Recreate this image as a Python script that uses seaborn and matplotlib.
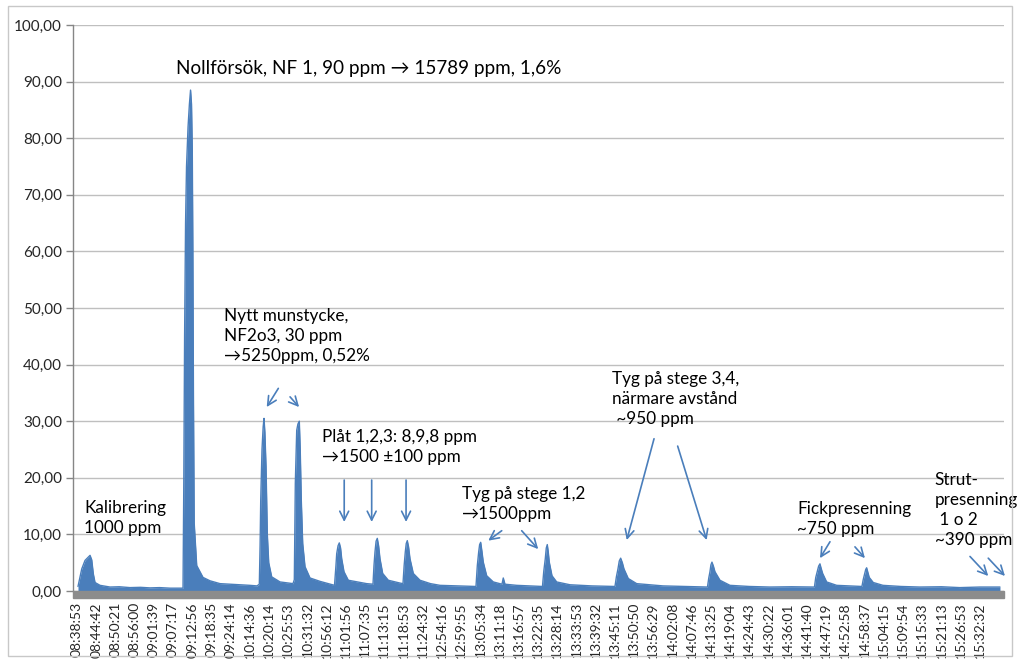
import numpy as np
import pandas as pd
import seaborn as sns
import matplotlib.pyplot as plt
from matplotlib.patches import Rectangle

# x-axis labels (one label per ~340 samples, category axis)
tick_labels = [
    '08:38:53', '08:44:42', '08:50:21', '08:56:00', '09:01:39', '09:07:17',
    '09:12:56', '09:18:35', '09:24:14', '10:14:36', '10:20:14', '10:25:53',
    '10:31:32', '10:56:12', '11:01:56', '11:07:35', '11:13:15', '11:18:53',
    '11:24:32', '12:54:16', '12:59:55', '13:05:34', '13:11:18', '13:16:57',
    '13:22:35', '13:28:14', '13:33:53', '13:39:32', '13:45:11', '13:50:50',
    '13:56:29', '14:02:08', '14:07:46', '14:13:25', '14:19:04', '14:24:43',
    '14:30:22', '14:36:01', '14:41:40', '14:47:19', '14:52:58', '14:58:37',
    '15:04:15', '15:09:54', '15:15:33', '15:21:13', '15:26:53', '15:32:32',
]

pos = [
    0.05, 0.245, 0.416, 0.677, 0.765, 0.849, 0.937, 1.197, 1.718, 2.2, 2.759, 3.3, 3.80, 4.3, 4.84,
    5.518, 5.56, 5.60, 5.65, 5.70, 5.78, 5.85, 5.91, 5.96, 6.00, 6.03, 6.06, 6.10, 6.231,
    6.559, 6.923, 7.444, 8.0, 8.485, 9.0, 9.370,
    9.490, 9.53, 9.563, 9.630, 9.69, 9.735, 9.78, 9.839, 9.907, 9.980, 10.135, 10.568, 11.244,
    11.312, 11.364, 11.437, 11.50, 11.572, 11.62, 11.676, 11.749, 11.869, 12.129, 12.650,
    13.405, 13.48, 13.519, 13.59, 13.654, 13.72, 13.779, 13.899, 14.123, 14.6, 15.080,
    15.408, 15.46, 15.512, 15.57, 15.632, 15.70, 15.773, 15.913, 16.205, 16.814,
    16.970, 17.03, 17.090, 17.14, 17.194, 17.26, 17.335, 17.507, 17.855, 18.4, 18.896, 19.8,
    20.770, 20.84, 20.911, 20.96, 21.015, 21.08, 21.150, 21.327, 21.671, 22.124, 22.191, 22.280, 22.889,
    23.6, 24.232, 24.30, 24.378, 24.43, 24.482, 24.53, 24.586, 24.727, 24.971, 25.664, 26.8,
    28.006, 28.08, 28.162, 28.23, 28.303, 28.39, 28.475, 28.699, 29.136, 30.505, 31.7,
    32.822, 32.89, 32.952, 33.00, 33.056, 33.13, 33.212, 33.472, 33.993, 35.0, 36.075, 37.2,
    38.391, 38.46, 38.537, 38.61, 38.678, 38.74, 38.818, 39.026, 39.547, 40.2,
    40.864, 40.93, 41.005, 41.06, 41.109, 41.17, 41.244, 41.453, 41.957, 42.9, 43.883, 45.0, 45.96,
    47.0, 48.05,
]
signal = [
    0.8, 3.9, 5.4, 6.3, 5.5, 3.0, 1.5, 1.0, 0.7, 0.75, 0.6, 0.65, 0.55, 0.6, 0.5,
    0.5, 20.0, 45.0, 65.0, 75.0, 82.0, 86.0, 88.5, 86.0, 78.0, 60.0, 35.0, 12.0, 4.5,
    2.4, 1.8, 1.3, 1.2, 1.1, 1.0, 0.9,
    1.2, 8.0, 16.0, 25.0, 29.0, 30.5, 28.0, 22.0, 10.0, 5.0, 2.5, 1.6, 1.3,
    2.0, 19.0, 28.4, 29.5, 30.0, 25.0, 16.0, 8.4, 4.3, 2.3, 1.7,
    1.0, 4.5, 6.6, 8.0, 8.5, 7.6, 5.7, 3.4, 1.9, 1.6, 1.3,
    1.2, 4.5, 6.9, 8.8, 9.3, 8.0, 5.7, 3.1, 1.9, 1.4,
    1.3, 4.5, 6.9, 8.4, 8.9, 7.8, 5.7, 3.1, 1.9, 1.3, 1.0, 0.9,
    0.8, 4.5, 6.9, 8.2, 8.6, 7.0, 5.1, 2.7, 1.6, 1.2, 2.3, 1.2, 1.0,
    0.9, 0.8, 3.5, 5.7, 7.6, 8.2, 7.0, 5.1, 2.7, 1.6, 1.1, 0.9,
    0.8, 2.5, 3.9, 5.3, 5.8, 5.0, 3.9, 2.2, 1.3, 0.9, 0.8,
    0.7, 2.3, 3.4, 4.6, 5.1, 4.4, 3.4, 1.9, 1.0, 0.8, 0.7, 0.75,
    0.7, 2.4, 3.4, 4.4, 4.8, 4.0, 3.1, 1.6, 1.0, 0.9,
    0.8, 2.0, 3.0, 3.8, 4.1, 3.3, 2.4, 1.5, 1.0, 0.8, 0.7, 0.75, 0.6,
    0.7, 0.7,
]

df = pd.DataFrame({'pos': pos, 'signal': signal})

blue = '#4A7EBB'
sns.set_style('white')
plt.rcParams['font.family'] = ['Lato', 'DejaVu Sans']

fig = plt.figure(figsize=(10.18, 6.62), dpi=100)
ax = fig.add_axes([73 / 1018, 1 - 591 / 662, (1004 - 73) / 1018, (591 - 25) / 662])

# outer chart frame
fig.patches.append(Rectangle((8 / 1018, 6 / 662), 1004 / 1018, 650 / 662,
                             transform=fig.transFigure, fill=False,
                             edgecolor='#C8C8C8', lw=1))

ax.fill_between(df['pos'], df['signal'], color=blue, lw=0, zorder=3)
sns.lineplot(data=df, x='pos', y='signal', ax=ax, color=blue, lw=1.0, zorder=3)

ax.set_xlim(-0.21, 48.26)
ax.set_ylim(0, 100)
ax.set_yticks(np.arange(0, 101, 10))
ax.set_yticklabels([f'{v:.2f}'.replace('.', ',') for v in np.arange(0, 101, 10)],
                   fontsize=11)
ax.set_xticks(range(len(tick_labels)))
ax.set_xticklabels(tick_labels, rotation=90, fontsize=10)
ax.tick_params(axis='x', length=0, pad=8)
ax.tick_params(axis='y', length=5, width=1, color='#868686', pad=3, direction='out', left=True)
ax.set_xlabel('')
ax.set_ylabel('')
ax.grid(axis='y', color='#BFBFBF', lw=1)
ax.set_axisbelow(True)
for s in ['top', 'right', 'bottom']:
    ax.spines[s].set_visible(False)
ax.spines['left'].set_color('#868686')
ax.spines['left'].set_linewidth(1)

# thick grey category axis band
ax.add_patch(Rectangle((0, -7 / 566), 1, 7 / 566, transform=ax.transAxes,
                       color='#8C8C8C', clip_on=False, zorder=4))

# annotations
fs = 12.3
texts = [
    (5.15, 92.4, 'Nollförsök, NF 1, 90 ppm \u2192 15789 ppm, 1,6%', 13.6),
    (0.36, 12.9, 'Kalibrering\n1000 ppm', fs),
    (7.65, 45.1, 'Nytt munstycke,\nNF2o3, 30 ppm\n\u21925250ppm, 0,52%', fs),
    (12.75, 25.4, 'Plåt 1,2,3: 8,9,8 ppm\n\u21921500 \u00b1100 ppm', fs),
    (20.04, 15.4, 'Tyg på stege 1,2\n\u21921500ppm', fs),
    (27.85, 33.9, 'Tyg på stege 3,4,\nnärmare avstånd\n ~950 ppm', fs),
    (37.48, 12.7, 'Fickpresenning\n~750 ppm', fs),
    (44.66, 14.3, 'Strut-\npresenning\n 1 o 2\n~390 ppm', fs),
]
for x, y, t, size in texts:
    ax.text(x, y, t, fontsize=size, ha='left', va='center', linespacing=1.3,
            color='black', clip_on=False, zorder=5)

arrows = [
    ((10.48, 35.8), (9.875, 32.5)),
    ((11.09, 34.3), (11.56, 32.5)),
    ((13.91, 19.6), (13.91, 12.2)),
    ((15.34, 19.6), (15.34, 12.2)),
    ((17.13, 19.6), (17.13, 12.2)),
    ((22.11, 10.65), (21.41, 8.9)),
    ((23.15, 10.65), (24.01, 7.4)),
    ((30.04, 26.9), (28.62, 9.0)),
    ((31.27, 25.6), (32.78, 9.0)),
    ((39.20, 8.7), (38.68, 5.8)),
    ((40.50, 7.8), (41.02, 5.8)),
    ((46.49, 6.1), (47.44, 2.65)),
    ((47.44, 5.8), (48.31, 2.65)),
]
for tail, head in arrows:
    ax.annotate('', xy=head, xytext=tail, annotation_clip=False,
                arrowprops=dict(arrowstyle='->', color=blue, lw=1.2,
                                mutation_scale=16, shrinkA=0, shrinkB=0),
                zorder=5)

fig.savefig('out.png', dpi=100)
